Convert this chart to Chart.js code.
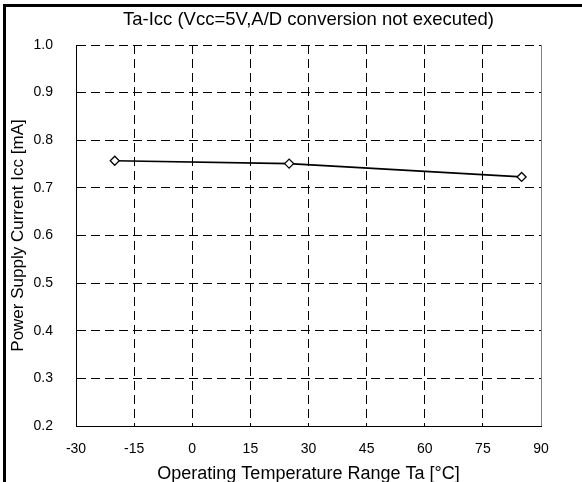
<!DOCTYPE html>
<html>
<head>
<meta charset="utf-8">
<title>Ta-Icc</title>
<script src="https://cdn.jsdelivr.net/npm/chart.js@4/dist/chart.umd.min.js"></script>
<style>
  body { margin: 0; background: #fff; }
  #wrap { position: relative; width: 582px; height: 482px; overflow: hidden; }
  #frame {
    position: absolute; left: 3px; top: 4px; right: -10px; bottom: -10px;
    border-left: 3px solid #000; border-top: 3px solid #000;
    pointer-events: none;
  }
  canvas { position: absolute; left: 0; top: 0; }
</style>
</head>
<body>
<div id="wrap">
  <canvas id="icc-chart" width="582" height="482"></canvas>
  <div id="frame"></div>
</div>
<script>
// measured supply current vs. ambient temperature
var temperatures = [-20, 25, 85];
var iccValues = [0.757, 0.751, 0.723];

var xTicks = [-30, -15, 0, 15, 30, 45, 60, 75, 90];
var yTicks = [0.2, 0.3, 0.4, 0.5, 0.6, 0.7, 0.8, 0.9, 1.0];

var FONT = "'Liberation Sans', Arial, sans-serif";

var points = temperatures.map(function (t, i) {
    return { x: t, y: iccValues[i] };
});

// solid grey edge on the right side of the plot
var rightEdge = {
    id: 'rightEdge',
    beforeDatasetsDraw: function (chart) {
        var a = chart.chartArea, ctx = chart.ctx;
        ctx.save();
        ctx.strokeStyle = '#808080';
        ctx.lineWidth = 1;
        ctx.beginPath();
        ctx.moveTo(Math.round(a.right) + 0.5, a.top);
        ctx.lineTo(Math.round(a.right) + 0.5, a.bottom);
        ctx.stroke();
        ctx.restore();
    }
};

var ctx = document.getElementById('icc-chart').getContext('2d');
new Chart(ctx, {
    type: 'line',
    data: {
        datasets: [{
            data: points,
            borderColor: '#000',
            borderWidth: 1.6,
            tension: 0,
            fill: false,
            pointStyle: 'rectRot',
            pointRadius: 4.5,
            pointBorderWidth: 1.3,
            pointBackgroundColor: '#fff',
            pointBorderColor: '#000'
        }]
    },
    options: {
        responsive: false,
        animation: false,
        layout: { padding: { top: 0, right: 41, bottom: 0, left: 0 } },
        plugins: {
            legend: { display: false },
            tooltip: { enabled: false },
            title: {
                display: true,
                fullSize: false,
                text: 'Ta-Icc (Vcc=5V,A/D conversion not executed)',
                color: '#000',
                font: { family: FONT, size: 18.5, weight: 'normal' },
                padding: { top: 9, bottom: 13.8 }
            }
        },
        scales: {
            x: {
                type: 'linear',
                min: -30,
                max: 90,
                afterBuildTicks: function (scale) {
                    scale.ticks = xTicks.map(function (v) { return { value: v }; });
                },
                afterFit: function (scale) { scale.height = 56; },
                grid: { color: '#000', lineWidth: 1, drawTicks: false },
                border: { display: true, color: '#000', width: 1, dash: [9, 5] },
                ticks: {
                    color: '#000',
                    padding: 15,
                    maxRotation: 0,
                    font: { family: FONT, size: 14 }
                },
                title: {
                    display: true,
                    text: 'Operating Temperature Range Ta [°C]',
                    color: '#000',
                    font: { family: FONT, size: 18 },
                    padding: { top: 0, bottom: -3 }
                }
            },
            y: {
                min: 0.2,
                max: 1.0,
                afterBuildTicks: function (scale) {
                    scale.ticks = yTicks.map(function (v) { return { value: v }; });
                },
                afterFit: function (scale) { scale.width = 76; },
                grid: { color: '#000', lineWidth: 1, drawTicks: false },
                border: { display: true, color: '#000', width: 1, dash: [9, 5] },
                ticks: {
                    color: '#000',
                    padding: 23,
                    font: { family: FONT, size: 14 },
                    callback: function (v) { return v.toFixed(1); }
                },
                title: {
                    display: true,
                    text: 'Power Supply Current Icc [mA]',
                    color: '#000',
                    font: { family: FONT, size: 17 },
                    padding: { top: 8, bottom: 0 }
                }
            }
        }
    },
    plugins: [rightEdge]
});
</script>
</body>
</html>
